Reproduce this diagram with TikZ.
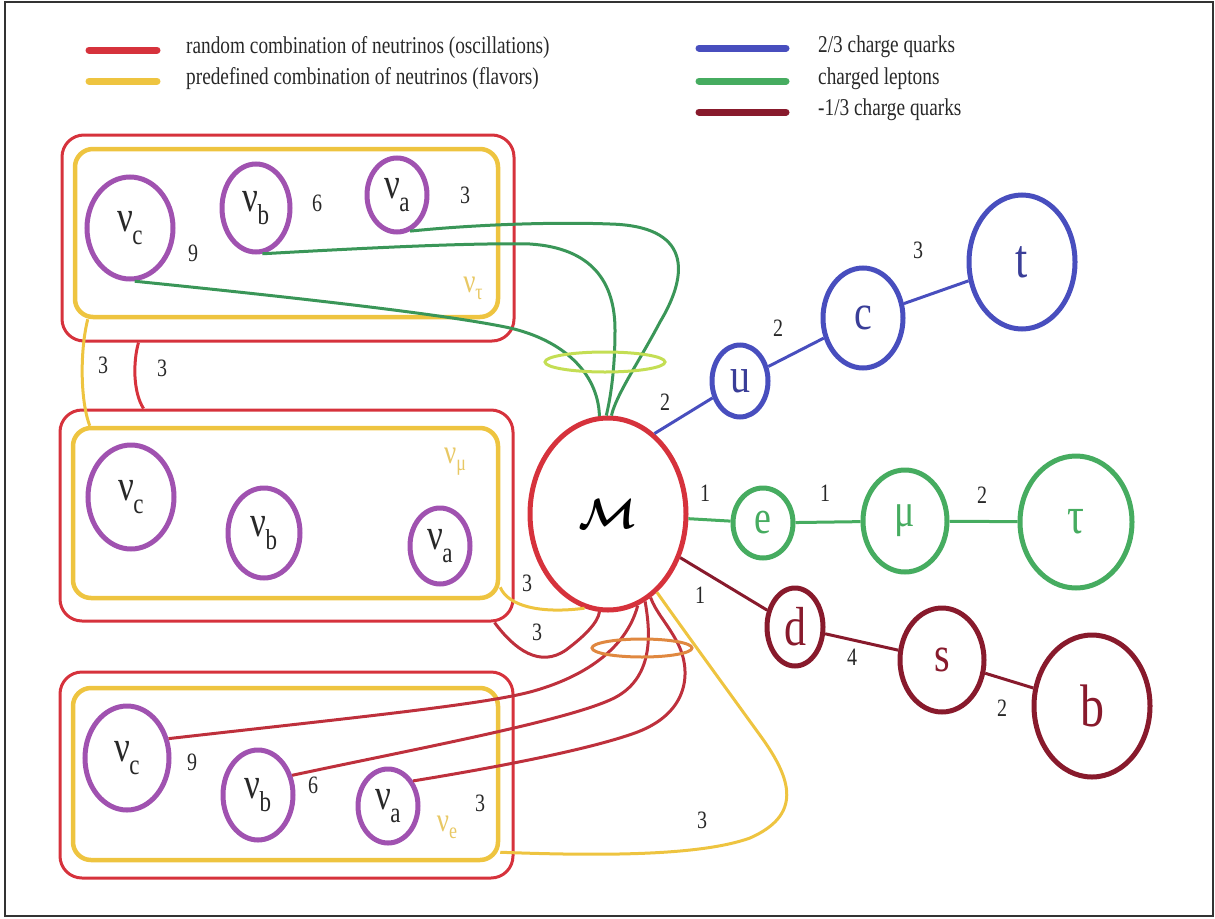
\documentclass[tikz,border=0pt]{standalone}
\usepackage{fontspec}
\setmainfont{Liberation Serif}
\usepackage{graphicx}
\usepackage{bm}
\usetikzlibrary{shapes.geometric}
\definecolor{cRed}{RGB}{214,50,60}
\definecolor{cYel}{RGB}{238,196,64}
\definecolor{cPur}{RGB}{160,82,176}
\definecolor{cBlue}{RGB}{72,78,190}
\definecolor{cGrn}{RGB}{70,172,96}
\definecolor{cGrnD}{RGB}{58,150,88}
\definecolor{cDRed}{RGB}{136,26,44}
\definecolor{cLine}{RGB}{190,48,60}
\definecolor{cLime}{RGB}{196,222,84}
\definecolor{cOra}{RGB}{224,136,64}
\definecolor{cYelT}{RGB}{232,200,100}
\definecolor{cTxt}{RGB}{40,40,40}
\newcommand{\tx}[2]{\scalebox{1}[1.25]{\fontsize{#1}{#1}\selectfont #2}}
\newcommand{\nul}[1]{\tx{35}{ν\kern-1pt\raisebox{-0.28em}{\fontsize{23}{23}\selectfont #1}}}
\newcommand{\nuf}[1]{\tx{27}{ν\raisebox{-0.2em}{\fontsize{18}{18}\selectfont #1}}}
\begin{document}
\begin{tikzpicture}[x=1pt,y=-1pt,
  nu/.style={ellipse, draw=cPur, line width=5pt, fill=white, inner sep=0pt, text=cTxt},
  redbox/.style={rectangle, draw=cRed, line width=3pt, rounded corners=22pt, inner sep=0pt},
  yelbox/.style={rectangle, draw=cYel, line width=4.5pt, rounded corners=18pt, inner sep=0pt},
  part/.style={ellipse, line width=5pt, fill=white, inner sep=0pt},
  num/.style={inner sep=0pt, text=cTxt},
  link/.style={line width=3pt},
  leg/.style={line width=7pt, line cap=round},
  legtext/.style={anchor=west, inner sep=0pt, text=cTxt}]
\useasboundingbox (0,0) rectangle (1215,918);
\draw[line width=2pt, black!80] (5,1.5) rectangle (1213,916);

% legend
\draw[leg, cRed] (89,50) -- (157,50);
\draw[leg, cYel] (89,81) -- (157,81);
\draw[leg, cBlue] (699,48) -- (786,48);
\draw[leg, cGrn] (699,81) -- (786,81);
\draw[leg, cDRed] (699,112) -- (786,112);
\node[legtext] (l1) at (186,48) {\tx{19.3}{random combination of neutrinos (oscillations)}};
\node[legtext] (l2) at (186,79) {\tx{19.3}{predefined combination of neutrinos (flavors)}};
\node[legtext] (l3) at (818,47) {\tx{19.3}{2/3 charge quarks}};
\node[legtext] (l4) at (818,79) {\tx{19.3}{charged leptons}};
\node[legtext] (l5) at (818,110) {\tx{19.3}{-1/3 charge quarks}};

% boxes
\node[redbox, minimum width=452pt, minimum height=206pt] (topR) at (288,238) {};
\node[yelbox, minimum width=423pt, minimum height=168pt] (topY) at (286.5,233) {};
\node[redbox, minimum width=453pt, minimum height=211pt] (midR) at (286.5,515.5) {};
\node[yelbox, minimum width=425pt, minimum height=170pt] (midY) at (285.5,513) {};
\node[redbox, minimum width=453pt, minimum height=206pt] (botR) at (286.5,775) {};
\node[yelbox, minimum width=425pt, minimum height=172pt] (botY) at (285.5,774) {};

% neutrinos
\node[nu, minimum width=86pt, minimum height=102pt] (tc) at (130,228) {\nul{c}};
\node[nu, minimum width=68pt, minimum height=88pt] (tb) at (256,208) {\nul{b}};
\node[nu, minimum width=60pt, minimum height=74pt] (ta) at (397,195) {\nul{a}};
\node[nu, minimum width=86pt, minimum height=104pt] (mc) at (131,497) {\nul{c}};
\node[nu, minimum width=72pt, minimum height=90pt] (mb) at (264,533) {\nul{b}};
\node[nu, minimum width=60pt, minimum height=76pt] (ma) at (440,546) {\nul{a}};
\node[nu, minimum width=84pt, minimum height=104pt] (bc) at (127,758) {\nul{c}};
\node[nu, minimum width=70pt, minimum height=90pt] (bb) at (258,795) {\nul{b}};
\node[nu, minimum width=60pt, minimum height=74pt] (ba) at (388,806) {\nul{a}};

\node[num, text=cYelT] (ftau) at (473,288) {\nuf{τ}};
\node[num, text=cYelT] (fmu) at (455,462) {\nuf{μ}};
\node[num, text=cYelT] (fe) at (447,827) {\nuf{e}};

% central node and particles
\node[part, draw=cRed, minimum width=156pt, minimum height=192pt] (M) at (608,514) {\scalebox{1.7}{\Huge$\bm{\mathcal{M}}$}};
\node[part, draw=cBlue, text=cBlue!80!black, minimum width=56pt, minimum height=72pt] (u) at (740,381) {\tx{40}{u}};
\node[part, draw=cBlue, text=cBlue!80!black, minimum width=80pt, minimum height=100pt] (c) at (863,318) {\tx{40}{c}};
\node[part, draw=cBlue, text=cBlue!80!black, minimum width=106pt, minimum height=134pt] (t) at (1022,262) {\tx{44}{t}};
\node[part, draw=cGrn, text=cGrn, minimum width=60pt, minimum height=70pt] (e) at (763,523) {\tx{38}{e}};
\node[part, draw=cGrn, text=cGrn, minimum width=84pt, minimum height=102pt] (mu) at (905,521) {\tx{38}{μ}};
\node[part, draw=cGrn, text=cGrn, minimum width=112pt, minimum height=132pt] (tau) at (1076,522) {\tx{42}{τ}};
\node[part, draw=cDRed, text=cDRed, minimum width=56pt, minimum height=78pt] (d) at (795,627) {\tx{44}{d}};
\node[part, draw=cDRed, text=cDRed, minimum width=84pt, minimum height=104pt] (s) at (942,660) {\tx{40}{s}};
\node[part, draw=cDRed, text=cDRed, minimum width=116pt, minimum height=142pt] (b) at (1092,706) {\tx{48}{b}};

% right chains
\draw[link, cBlue] (M.60) -- (u);
\draw[link, cBlue] (u) -- (c);
\draw[link, cBlue] (c) -- (t);
\draw[link, cGrn] (M) -- (e);
\draw[link, cGrn] (e) -- (mu);
\draw[link, cGrn] (mu) -- (tau);
\draw[link, cDRed] (M) -- (d);
\draw[link, cDRed] (d) -- (s);
\draw[link, cDRed] (s) -- (b);

% box links
\draw[link, cYel] ([xshift=15pt]topY.south west) .. controls (80,350) and (80,400) .. ([xshift=19pt]midY.north west);
\draw[link, cRed] ([xshift=78pt]topR.south west) .. controls (133,362) and (133,392) .. ([xshift=85pt]midR.north west);

% green links from tau neutrinos
\draw[link, cGrnD] (ta.-70) .. controls (480,224) and (560,222) .. (610,224) .. controls (690,226) and (690,272) .. (660,322) .. controls (640,360) and (616,395) .. (M.88);
\draw[link, cGrnD] (tb.-82) .. controls (400,246) and (480,243) .. (530,244) .. controls (592,248) and (615,282) .. (615,330) .. controls (615,372) and (610,400) .. (M.91);
\draw[link, cGrnD] (tc.-85) .. controls (300,298) and (450,315) .. (510,328) .. controls (562,340) and (598,372) .. (M.95);

% links to M from mu box
\draw[link, cYel] ([yshift=13pt]midY.south east) .. controls (508,606) and (540,614) .. (M.-104);
\draw[link, cLine] ([xshift=-20pt]midR.south east) .. controls (515,650) and (540,668) .. (566,650) .. controls (586,635) and (598,622) .. (M.-95);

% red links from e box
\draw[link, cLine] (bc.25) .. controls (350,718) and (480,705) .. (530,692) .. controls (582,678) and (626,650) .. (M.-72);
\draw[link, cLine] (bb.30) .. controls (420,748) and (560,722) .. (610,700) .. controls (656,680) and (650,630) .. (M.-67);
\draw[link, cLine] (ba.45) .. controls (480,770) and (580,752) .. (632,734) .. controls (692,714) and (692,668) .. (676,640) .. controls (666,622) and (656,612) .. (M.-63);
% yellow link from e box
\draw[link, cYel] ([yshift=10pt]botY.south east) .. controls (600,856) and (700,856) .. (750,838) .. controls (802,815) and (792,780) .. (762,738) .. controls (720,680) and (680,625) .. (M.-58);

% rings
\node[ellipse, draw=cLime, line width=3pt, minimum width=120pt, minimum height=20pt, inner sep=0pt] (ringg) at (605,362) {};
\node[ellipse, draw=cOra, line width=3pt, minimum width=100pt, minimum height=18pt, inner sep=0pt] (ringo) at (642,648) {};

% numbers
\node[num] (n1) at (193,253) {\tx{20}{9}};
\node[num] (n2) at (317,203) {\tx{20}{6}};
\node[num] (n3) at (465,195) {\tx{20}{3}};
\node[num] (n4) at (103,365) {\tx{20}{3}};
\node[num] (n5) at (162,368) {\tx{20}{3}};
\node[num] (n6) at (192,762) {\tx{20}{9}};
\node[num] (n7) at (313,785) {\tx{20}{6}};
\node[num] (n8) at (480,803) {\tx{20}{3}};
\node[num] (n9) at (527,583) {\tx{20}{3}};
\node[num] (n10) at (537,632) {\tx{20}{3}};
\node[num] (n11) at (702,820) {\tx{20}{3}};
\node[num] (n12) at (665,402) {\tx{20}{2}};
\node[num] (n13) at (778,328) {\tx{20}{2}};
\node[num] (n14) at (918,250) {\tx{20}{3}};
\node[num] (n15) at (705,493) {\tx{20}{1}};
\node[num] (n16) at (825,493) {\tx{20}{1}};
\node[num] (n17) at (982,495) {\tx{20}{2}};
\node[num] (n18) at (700,595) {\tx{20}{1}};
\node[num] (n19) at (852,657) {\tx{20}{4}};
\node[num] (n20) at (1002,708) {\tx{20}{2}};
\end{tikzpicture}
\end{document}
